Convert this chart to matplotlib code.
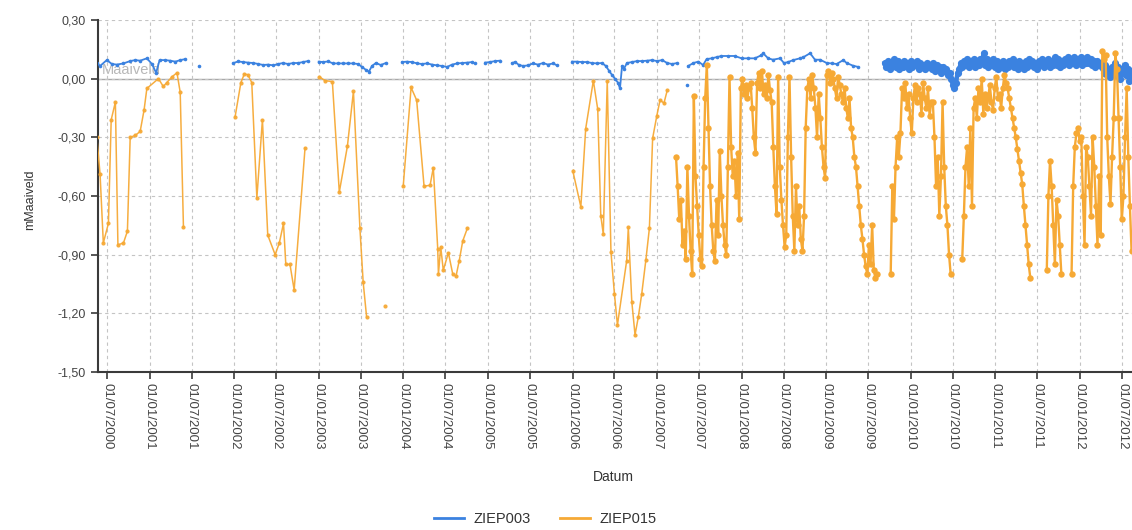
import numpy as np
import pandas as pd
import matplotlib
matplotlib.use("Agg")
import matplotlib.pyplot as plt
import matplotlib.dates as mdates
from matplotlib.ticker import FuncFormatter
from matplotlib.lines import Line2D

plt.rcParams['font.family'] = ['Liberation Sans', 'DejaVu Sans']

# ---------------- data ----------------
series_names = ["ZIEP003", "ZIEP015"]

# ZIEP003 manual readings (None = no measurement / gap)
ziep003_dates = [
    "2000-05-18", "2000-06-01", "2000-06-30", "2000-07-22", "2000-08-12", "2000-09-10", "2000-10-09",
    "2000-10-31", "2000-11-21", "2000-12-20", "2001-01-11", "2001-01-29", "2001-02-13", "2001-03-09",
    "2001-03-31", "2001-04-22", "2001-05-13", "2001-06-04",
    "2001-07-01",
    "2001-08-03",
    "2001-10-01",
    "2001-12-29", "2002-01-18", "2002-02-09", "2002-03-03", "2002-03-25", "2002-04-15", "2002-05-07",
    "2002-05-28", "2002-06-19", "2002-07-10", "2002-07-31", "2002-08-22", "2002-09-13", "2002-10-04",
    "2002-10-25", "2002-11-16",
    "2002-12-10",
    "2003-01-01", "2003-01-20", "2003-02-11", "2003-03-04", "2003-03-26", "2003-04-16", "2003-05-08",
    "2003-05-30", "2003-06-20", "2003-07-07", "2003-07-24", "2003-08-06", "2003-08-19", "2003-09-05",
    "2003-09-26", "2003-10-18",
    "2003-11-20",
    "2003-12-27", "2004-01-17", "2004-02-08", "2004-03-01", "2004-03-22", "2004-04-13", "2004-05-05",
    "2004-05-26", "2004-06-17", "2004-07-08", "2004-07-30", "2004-08-21", "2004-09-12", "2004-10-03",
    "2004-10-25", "2004-11-07",
    "2004-12-01",
    "2004-12-19", "2005-01-10", "2005-02-01", "2005-02-22",
    "2005-03-20",
    "2005-04-15", "2005-04-28", "2005-05-15", "2005-06-02", "2005-06-23", "2005-07-14", "2005-08-05",
    "2005-08-27", "2005-09-17", "2005-10-09", "2005-10-26",
    "2005-12-01",
    "2005-12-30", "2006-01-20", "2006-02-11", "2006-03-04", "2006-03-26", "2006-04-17", "2006-05-08",
    "2006-05-25", "2006-06-08", "2006-06-20", "2006-07-03", "2006-07-16", "2006-07-25", "2006-08-03",
    "2006-08-11", "2006-08-24", "2006-09-15", "2006-10-07", "2006-10-28", "2006-11-19", "2006-12-10",
    "2007-01-01", "2007-01-23", "2007-02-14", "2007-03-07", "2007-03-29",
    "2007-04-20",
    "2007-05-10",
    "2007-05-13",
    "2007-05-16", "2007-06-07", "2007-06-28", "2007-07-19", "2007-08-03", "2007-08-25", "2007-09-15",
    "2007-10-06", "2007-11-04", "2007-12-03", "2008-01-01", "2008-01-30", "2008-02-27", "2008-03-27",
    "2008-04-03", "2008-04-25", "2008-05-16", "2008-06-15", "2008-07-02", "2008-07-20", "2008-08-11",
    "2008-09-09", "2008-09-24", "2008-10-23", "2008-11-13", "2008-12-05", "2009-01-03", "2009-01-24",
    "2009-02-15", "2009-03-15", "2009-03-30", "2009-04-27", "2009-05-19",
]
ziep003_values = [
    0.08, 0.065, 0.095, 0.075, 0.072, 0.078, 0.09, 0.095, 0.092, 0.104, 0.075, 0.03, 0.095, 0.095,
    0.092, 0.087, 0.095, 0.10,
    None,
    0.065,
    None,
    0.08, 0.088, 0.085, 0.082, 0.08, 0.075, 0.07, 0.072, 0.068, 0.075, 0.08, 0.075, 0.08, 0.08,
    0.085, 0.09,
    None,
    0.087, 0.085, 0.088, 0.078, 0.078, 0.078, 0.078, 0.078, 0.075, 0.06, 0.045, 0.036, 0.065, 0.08,
    0.07, 0.08,
    None,
    0.085, 0.087, 0.085, 0.078, 0.075, 0.078, 0.072, 0.068, 0.065, 0.06, 0.072, 0.078, 0.08, 0.082,
    0.085, 0.078,
    None,
    0.082, 0.085, 0.09, 0.092,
    None,
    0.08, 0.085, 0.07, 0.065, 0.068, 0.078, 0.072, 0.08, 0.072, 0.078, 0.068,
    None,
    0.087, 0.087, 0.085, 0.085, 0.08, 0.078, 0.08, 0.065, 0.04, 0.02, 0.0, -0.02, -0.05, 0.065,
    0.05, 0.08, 0.085, 0.09, 0.09, 0.092, 0.095, 0.09, 0.095, 0.08, 0.075, 0.08,
    None,
    -0.03,
    None,
    0.065, 0.08, 0.087, 0.07, 0.10, 0.104, 0.11, 0.116, 0.116, 0.116, 0.104, 0.104, 0.104, 0.12,
    0.13, 0.104, 0.097, 0.104, 0.08, 0.085, 0.095, 0.104, 0.11, 0.13, 0.097, 0.097, 0.08, 0.078,
    0.075, 0.095, 0.08, 0.066, 0.06,
]

# ZIEP003 logger (weekly values from start date)
ziep003_logger_start = "2009-09-10"
ziep003_logger_values = [
    0.08, 0.06, 0.09, 0.05, 0.08, 0.07, 0.10, 0.06, 0.09, 0.05,
    0.08, 0.06, 0.09, 0.07, 0.08, 0.05, 0.09, 0.06, 0.08, 0.07,
    0.09, 0.05, 0.08, 0.06, 0.07, 0.05, 0.08, 0.06, 0.07, 0.05,
    0.08, 0.04, 0.07, 0.05, 0.06, 0.03, 0.06, 0.04, 0.05, 0.02,
    0.03,
    0.00, -0.03, -0.05, -0.02, 0.03,
    0.05, 0.08, 0.06, 0.09, 0.07, 0.10, 0.06, 0.09, 0.07, 0.10, 0.06, 0.09, 0.07, 0.10, 0.08,
    0.13,
    0.07, 0.10, 0.06, 0.09, 0.07, 0.10, 0.06, 0.09, 0.05, 0.08,
    0.06, 0.09, 0.05, 0.08, 0.06, 0.09, 0.07, 0.10, 0.06, 0.08,
    0.05, 0.09, 0.06, 0.08, 0.05, 0.09, 0.06, 0.10, 0.07, 0.09,
    0.06, 0.08, 0.05, 0.09, 0.07, 0.10, 0.06, 0.09, 0.07,
    0.10, 0.06, 0.09, 0.07, 0.11, 0.07, 0.10, 0.06, 0.09, 0.07,
    0.10, 0.08, 0.11, 0.07, 0.10, 0.08, 0.11, 0.07, 0.10, 0.08,
    0.11, 0.07, 0.10, 0.08, 0.11, 0.08, 0.10, 0.07, 0.09, 0.06,
    0.09, 0.07, 0.08,
    0.06, 0.03, 0.07, 0.02, 0.05, 0.01, 0.06, 0.03, 0.08, 0.02,
    0.06, 0.00, 0.05, 0.03, 0.07, 0.02, 0.05, -0.01, 0.04, 0.02,
]

# ZIEP015 manual readings
ziep015_dates = [
    "2000-05-18", "2000-06-01", "2000-06-15", "2000-07-07", "2000-07-19", "2000-08-06", "2000-08-17",
    "2000-09-10", "2000-09-27", "2000-10-09", "2000-10-31", "2000-11-21", "2000-12-08", "2000-12-20",
    "2001-02-08", "2001-03-01", "2001-03-16", "2001-04-08", "2001-04-29", "2001-05-13", "2001-05-27",
    "2001-09-01",
    "2002-01-05", "2002-01-30", "2002-02-14", "2002-03-01", "2002-03-18", "2002-04-09", "2002-05-03",
    "2002-05-26", "2002-06-27", "2002-07-15", "2002-08-02", "2002-08-12", "2002-08-30", "2002-09-17",
    "2002-11-03",
    "2002-12-01",
    "2003-01-04", "2003-01-28", "2003-03-01", "2003-03-31", "2003-05-05", "2003-05-31", "2003-06-28",
    "2003-07-12", "2003-07-27",
    "2003-09-01",
    "2003-10-14",
    "2003-11-15",
    "2004-01-01", "2004-02-04", "2004-02-28", "2004-03-31", "2004-04-26", "2004-05-10", "2004-05-29",
    "2004-06-01", "2004-06-11", "2004-06-22", "2004-07-14", "2004-08-02", "2004-08-16", "2004-08-30",
    "2004-09-14", "2004-10-04",
    "2005-06-01",
    "2006-01-02", "2006-02-06", "2006-02-27", "2006-04-01", "2006-04-20", "2006-05-03", "2006-05-14",
    "2006-05-31", "2006-06-16", "2006-07-01", "2006-07-14", "2006-08-23", "2006-08-30", "2006-09-14",
    "2006-09-28", "2006-10-12", "2006-10-27", "2006-11-14", "2006-11-29", "2006-12-13", "2006-12-31",
    "2007-01-14", "2007-01-31", "2007-02-14",
]
ziep015_values = [
    -0.30, -0.49, -0.84, -0.74, -0.21, -0.12, -0.85, -0.84, -0.78, -0.30, -0.29, -0.27, -0.16, -0.05,
    0.00, -0.04, -0.02, 0.01, 0.03, -0.07, -0.76,
    None,
    -0.195, -0.02, 0.024, 0.02, -0.02, -0.61, -0.21, -0.80, -0.90, -0.84, -0.74, -0.95, -0.95, -1.08,
    -0.355,
    None,
    0.01, -0.01, -0.015, -0.58, -0.345, -0.065, -0.765, -1.04, -1.22,
    None,
    -1.16,
    None,
    -0.55, -0.045, -0.11, -0.55, -0.545, -0.455, -0.87, -1.00, -0.86, -0.98, -0.89, -1.00, -1.01,
    -0.93, -0.83, -0.765,
    None,
    -0.47, -0.655, -0.255, -0.01, -0.157, -0.70, -0.795, -0.01, -0.885, -1.10, -1.26, -0.93, -0.76,
    -1.14, -1.31, -1.22, -1.10, -0.925, -0.765, -0.305, -0.19, -0.11, -0.125, -0.06,
]

# ZIEP015 logger periods (weekly values from each start date)
ziep015_logger_starts = ["2007-03-24", "2009-10-06", "2010-08-11", "2011-08-11", "2011-11-26"]
ziep015_logger_1 = [
    -0.40, -0.55, -0.72, -0.62, -0.85, -0.78, -0.92,
    -0.45, -0.70, -0.88, -1.00,
    -0.09, -0.50,
    -0.65, -0.80, -0.92, -0.96,
    -0.45, -0.10, 0.07, -0.25,
    -0.55, -0.75, -0.88, -0.93, -0.62, -0.80,
    -0.37,
    -0.60, -0.75, -0.85, -0.90,
    -0.45, 0.01,
    -0.35, -0.50, -0.42, -0.60, -0.38, -0.72,
    -0.05, 0.00, -0.08, -0.03, -0.10, -0.05, -0.02, -0.15, -0.30, -0.38,
    -0.02, 0.03, -0.05, 0.04, -0.08, -0.03, -0.10, 0.02, -0.06, -0.12,
    -0.35, -0.55, -0.69, 0.01,
    -0.45, -0.62, -0.75, -0.86, -0.80,
    -0.30, 0.01, -0.40, -0.70, -0.88,
    -0.55, -0.75, -0.65, -0.82, -0.88, -0.70,
    -0.25, -0.05, 0.00, -0.10, 0.02, -0.05, -0.15, -0.30, -0.08,
    -0.20, -0.35, -0.45, -0.51,
    0.02, 0.04, -0.02, 0.03, 0.00, -0.05, -0.10, 0.01, -0.03, -0.08, -0.12, -0.05, -0.15, -0.20,
    -0.10, -0.25, -0.30, -0.40,
    -0.45, -0.55, -0.65, -0.75, -0.82, -0.90, -0.96, -1.00,
    -0.85, -0.95, -0.75, -0.98, -1.02, -1.00,
]
ziep015_logger_2 = [
    -1.00, -0.55, -0.72, -0.45,
    -0.30, -0.40, -0.28,
    -0.05, -0.10, -0.02, -0.15, -0.08, -0.20, -0.28, -0.10, -0.03, -0.12, -0.05, -0.08, -0.18,
    -0.02, -0.10, -0.15, -0.05, -0.19, -0.12,
    -0.12, -0.30, -0.55, -0.40, -0.70, -0.50, -0.12, -0.45, -0.65, -0.75, -0.90, -1.00,
]
ziep015_logger_3 = [
    -0.92, -0.70, -0.45, -0.35, -0.55, -0.25, -0.65,
    -0.15, -0.10, -0.20, -0.05, -0.12, 0.00, -0.18, -0.08, -0.15, -0.10, -0.03, -0.12, -0.16,
    -0.05, 0.01, -0.10, -0.08, -0.15, -0.05, 0.02, -0.02,
    -0.05, -0.10, -0.15, -0.20, -0.25, -0.30, -0.36, -0.42, -0.48, -0.54,
    -0.65, -0.75, -0.85, -0.95, -1.02,
]
ziep015_logger_4 = [-0.98, -0.60, -0.42, -0.55, -0.75, -0.95, -0.62, -0.70, -0.85, -1.00]
ziep015_logger_5 = [
    -1.00, -0.55, -0.35, -0.28, -0.25, -0.32, -0.30, -0.60, -0.85, -0.35, -0.40, -0.55, -0.70,
    -0.30, -0.45, -0.65, -0.85, -0.50, -0.80,
    0.14, 0.10, 0.12,
    -0.30, -0.50, -0.64, -0.40, -0.20,
    0.13, 0.05, -0.20,
    -0.45, -0.72, -0.60,
    -0.30, -0.05, -0.40, -0.65, -0.88,
]

y_ticks = [-1.50, -1.20, -0.90, -0.60, -0.30, 0.00, 0.30]
x_range = ("2000-05-23", "2012-08-13")

# ---------------- helpers ----------------
def manual(dates, vals):
    d = pd.to_datetime(dates)
    v = np.array([np.nan if x is None else x for x in vals], dtype=float)
    return d, v


def logger(starts, lists):
    ds, vs = [], []
    for s, vals in zip(starts, lists):
        d = pd.date_range(s, periods=len(vals), freq="7D")
        ds.append(d)
        vs.append(np.array(vals, dtype=float))
        ds.append(pd.DatetimeIndex([d[-1] + pd.Timedelta(days=3)]))
        vs.append(np.array([np.nan]))
    return ds[0].append(ds[1:]), np.concatenate(vs)


blue = "#3b82e0"
orange = "#f6a935"

fig = plt.figure(figsize=(11.32, 5.30), dpi=100)
ax = fig.add_axes([98 / 1132, 158 / 530, 1 - 98 / 1132, 352 / 530])

ax.axhline(0, color="#a8a8a8", lw=1.0, zorder=1.2)
ax.text(pd.Timestamp("2000-06-08"), 0.022, "Maaiveld", color="#b8b8b8", fontsize=10.5,
        ha="left", va="baseline", zorder=1.3)

d, v = manual(ziep003_dates, ziep003_values)
ax.plot(d, v, color=blue, lw=1.3, marker="o", ms=2.6, mew=0, zorder=3)
d, v = logger([ziep003_logger_start], [ziep003_logger_values])
ax.plot(d, v, color=blue, lw=3.2, marker="o", ms=5.2, mew=0, zorder=3)

d, v = manual(ziep015_dates, ziep015_values)
ax.plot(d, v, color=orange, lw=1.1, marker="o", ms=3.0, mew=0, zorder=4, alpha=0.95)
d, v = logger(ziep015_logger_starts,
              [ziep015_logger_1, ziep015_logger_2, ziep015_logger_3, ziep015_logger_4, ziep015_logger_5])
ax.plot(d, v, color=orange, lw=1.7, marker="o", ms=4.6, mew=0, zorder=4)

ax.set_xlim(pd.Timestamp(x_range[0]), pd.Timestamp(x_range[1]))
ax.set_ylim(y_ticks[0], y_ticks[-1])
ax.set_yticks(y_ticks)
ax.yaxis.set_major_formatter(FuncFormatter(lambda val, pos: f"{val:.2f}".replace(".", ",").replace("-0,00", "0,00")))
ax.xaxis.set_major_locator(mdates.MonthLocator(bymonth=[1, 7], bymonthday=1))
ax.xaxis.set_major_formatter(mdates.DateFormatter("%d/%m/%Y"))

ax.grid(True, which="major", color="#c4c4c4", lw=0.8, ls=(0, (3, 3)), zorder=0)
for s in ["top", "right"]:
    ax.spines[s].set_visible(False)
for s in ["left", "bottom"]:
    ax.spines[s].set_color("#3a3a3a")
    ax.spines[s].set_linewidth(1.5)

ax.tick_params(axis="x", length=5, width=1.2, color="#3a3a3a", pad=3, labelsize=9.5,
               labelcolor="#444444", labelrotation=270)
ax.tick_params(axis="y", length=5, width=1.2, color="#3a3a3a", pad=4, labelsize=9,
               labelcolor="#444444")
for lbl in ax.get_xticklabels():
    lbl.set_ha("center")
    lbl.set_va("top")

fig.text(613 / 1132, 1 - 477 / 530, "Datum", ha="center", va="center", fontsize=10, color="#333333")
fig.text(30 / 1132, 1 - 200 / 530, "mMaaiveld", ha="center", va="center", fontsize=9,
         color="#333333", rotation=90)

handles = [Line2D([0], [0], color=blue, lw=2), Line2D([0], [0], color=orange, lw=2)]
fig.legend(handles, series_names, loc="center", bbox_to_anchor=(545 / 1132, 1 - 519 / 530),
           ncol=2, frameon=False, fontsize=10.5, handlelength=2.1, handletextpad=0.6,
           columnspacing=2.0, labelcolor="#333333")

fig.savefig("out.png", dpi=100)
